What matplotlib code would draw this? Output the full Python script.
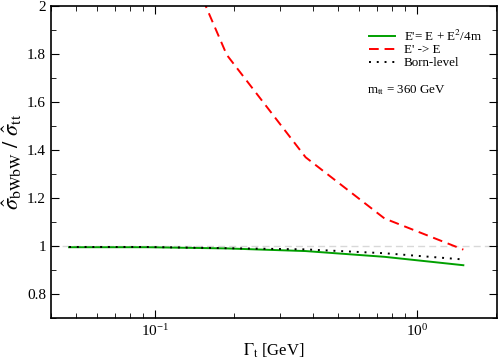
import matplotlib
matplotlib.use('Agg')
import matplotlib.pyplot as plt
from matplotlib.ticker import MultipleLocator, LogLocator, NullFormatter

plt.rcParams['font.family'] = 'Liberation Serif'
plt.rcParams['mathtext.fontset'] = 'stix'

# top width values (GeV)
gamma = [0.046875, 0.09375, 0.1875, 0.375, 0.75, 1.5]
# ratio sigma_bWbW / sigma_tt
ratio_full = [0.995, 0.995, 0.990, 0.979, 0.955, 0.920]
ratio_noshift = [3.40, 2.56, 1.797, 1.37, 1.115, 0.985]
ratio_born = [0.996, 0.996, 0.991, 0.986, 0.970, 0.944]

fig = plt.figure(figsize=(4.98, 3.63), dpi=100)
ax = fig.add_axes([0.1024, 0.124, 0.896, 0.859])

ax.axhline(1.0, color='#d8d8d8', lw=1.0, ls=(0, (5, 3)), zorder=1)
ax.plot(gamma, ratio_full, color='#00a000', lw=1.4, label="E'= E + E$^2$/4m")
ax.plot(gamma, ratio_noshift, color='#ff0000', lw=1.4, ls=(0, (5, 3)), label="E' -> E")
ax.plot(gamma, ratio_born, color='black', lw=1.4, ls=(0, (1, 3)), label='Born-level')

ax.set_xscale('log')
ax.set_xlim(0.04, 2.02)
ax.set_ylim(0.7, 2.0)

ax.yaxis.set_major_locator(MultipleLocator(0.2))
ax.yaxis.set_minor_locator(MultipleLocator(0.1))
ax.xaxis.set_major_locator(LogLocator(base=10, numticks=10))
ax.xaxis.set_minor_locator(LogLocator(base=10, subs=range(2, 10), numticks=10))
ax.xaxis.set_minor_formatter(NullFormatter())
ax.set_yticks([0.8, 1.0, 1.2, 1.4, 1.6, 1.8, 2.0])
ax.set_yticklabels(['0.8', '1', '1.2', '1.4', '1.6', '1.8', '2'])

ax.tick_params(which='both', direction='in', top=True, right=True, labelsize=11)
ax.tick_params(which='major', length=6)
ax.tick_params(which='minor', length=3.5)
for s in ax.spines.values():
    s.set_linewidth(1.2)

ax.set_xlabel(r'$\Gamma_{\rm t}$ [GeV]', fontsize=12, labelpad=2)
ax.set_ylabel(r'$\hat{\sigma}_{\rm bWbW}\ /\ \hat{\sigma}_{\rm tt}$', fontsize=16, labelpad=2)

ax.legend(loc='upper left', bbox_to_anchor=(0.7, 0.945), frameon=False, fontsize=9.4,
          handlelength=2.0, handletextpad=0.7, labelspacing=0.05, borderaxespad=0)
ax.text(0.709, 0.72, r'm$_{\rm tt}$ = 360 GeV', transform=ax.transAxes, fontsize=9.4)

fig.savefig('out.png', dpi=100)
